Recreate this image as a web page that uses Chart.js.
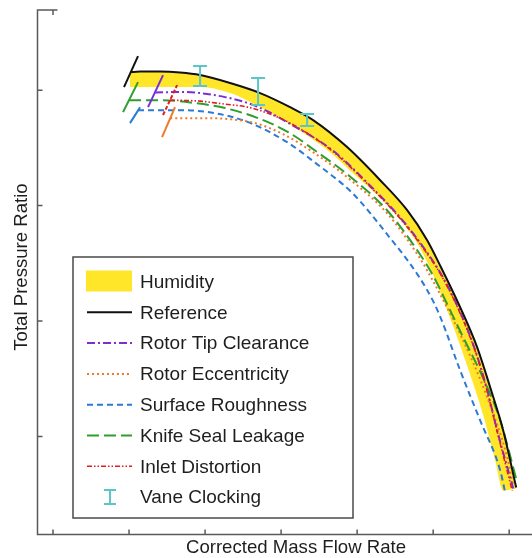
<!DOCTYPE html>
<html>
<head>
<meta charset="utf-8">
<script src="https://cdn.jsdelivr.net/npm/chart.js@4.4.0/dist/chart.umd.min.js"></script>
<style>
    html, body { margin: 0; padding: 0; background: #fff; }
    #wrap { width: 532px; height: 558px; position: relative; }
</style>
</head>
<body>
<div id="wrap"><canvas id="chart"></canvas></div>
<script>
// Axis ticks (no labels on the original)
const xTicks = [0, 1, 2, 3, 4, 5, 6];
const yTicks = [1, 2, 3, 4];

// Reference curve
const refX = [1.013, 1.145, 1.408, 1.671, 1.934, 2.329, 2.724, 3.118, 3.421, 3.868, 4.303, 4.658, 4.921, 5.092, 5.355, 5.579, 5.750, 5.921, 6.092];
const refY = [4.157, 4.161, 4.161, 4.153, 4.131, 4.062, 3.975, 3.853, 3.741, 3.507, 3.220, 2.960, 2.700, 2.480, 2.119, 1.772, 1.425, 1.052, 0.558];
const refSurgeX = [0.934, 1.118];
const refSurgeY = [4.027, 4.296];

// Humidity band, lower edge (upper edge is the reference curve)
const humLoX = [1.013, 1.408, 1.934, 2.329, 2.592, 2.921, 3.276, 3.675, 3.918, 4.373, 4.767, 4.965, 5.244, 5.445, 5.648, 5.816, 5.921, 6.092];
const humLoY = [4.027, 4.027, 4.027, 3.975, 3.897, 3.784, 3.637, 3.446, 3.298, 3.021, 2.700, 2.450, 1.989, 1.616, 1.208, 0.792, 0.532, 0.549];

// Rotor tip clearance
const tipX = [1.342, 1.671, 1.934, 2.263, 2.566, 2.816, 3.079, 3.675, 4.139, 4.596, 4.899, 5.113, 5.326, 5.540, 5.701, 5.842, 6.053];
const tipY = [3.980, 3.985, 3.975, 3.940, 3.888, 3.819, 3.723, 3.480, 3.194, 2.873, 2.613, 2.396, 2.119, 1.772, 1.425, 1.052, 0.549];
const tipSurgeX = [1.250, 1.447];
const tipSurgeY = [3.853, 4.131];

// Inlet distortion
const inletX = [1.539, 1.934, 2.263, 2.566, 2.855, 3.118, 3.675, 4.139, 4.596, 4.899, 5.113, 5.326, 5.540, 5.701, 5.842, 6.039];
const inletY = [3.914, 3.905, 3.879, 3.853, 3.793, 3.715, 3.472, 3.186, 2.865, 2.604, 2.388, 2.110, 1.763, 1.416, 1.043, 0.532];
const inletSurgeX = [1.447, 1.632];
const inletSurgeY = [3.784, 4.044];

// Knife seal leakage
const knifeX = [1.000, 1.408, 1.868, 2.263, 2.697, 3.092, 3.441, 3.918, 4.393, 4.817, 5.011, 5.204, 5.395, 5.671, 5.882, 6.105];
const knifeY = [3.914, 3.914, 3.888, 3.845, 3.758, 3.637, 3.480, 3.246, 2.960, 2.587, 2.379, 2.119, 1.859, 1.486, 1.139, 0.601];
const knifeSurgeX = [0.921, 1.118];
const knifeSurgeY = [3.810, 4.070];

// Rotor eccentricity
const eccX = [1.542, 1.934, 2.329, 2.658, 3.026, 3.441, 3.918, 4.393, 4.817, 4.971, 5.375, 5.711, 5.974, 6.053];
const eccY = [3.758, 3.758, 3.749, 3.715, 3.619, 3.454, 3.220, 2.934, 2.552, 2.379, 1.859, 1.338, 0.818, 0.575];
const eccSurgeX = [1.434, 1.605];
const eccSurgeY = [3.593, 3.853];

// Surface roughness
const roughX = [1.118, 1.671, 2.132, 2.566, 3.079, 3.451, 3.938, 4.383, 4.797, 5.001, 5.112, 5.355, 5.618, 5.882, 5.947];
const roughY = [3.827, 3.827, 3.801, 3.723, 3.550, 3.370, 3.108, 2.761, 2.400, 2.170, 2.006, 1.572, 1.139, 0.705, 0.514];
const roughSurgeX = [1.013, 1.145];
const roughSurgeY = [3.715, 3.853];

// Vane clocking error bars
const vaneX = [1.934, 2.697, 3.342];
const vaneLo = [4.036, 3.871, 3.689];
const vaneHi = [4.209, 4.105, 3.793];

const COLORS = {
    humidity: '#ffe629',
    reference: '#111111',
    tip: '#7b2ed6',
    ecc: '#f07a2a',
    rough: '#2a7ad6',
    knife: '#2e9e2e',
    inlet: '#e51b23',
    vane: '#5cc6c6'
};

const DASH = {
    reference: [],
    tip: [8, 3, 2, 3],
    ecc: [2, 3],
    rough: [6, 4],
    knife: [12, 5],
    inlet: [5, 2, 1.5, 2, 1.5, 2]
};

const FONT = '"Liberation Sans", Arial, sans-serif';

function pts(xs, ys) {
    return xs.map((x, i) => ({ x: x, y: ys[i] }));
}

function curve(key, xs, ys, width) {
    return {
        data: pts(xs, ys),
        borderColor: COLORS[key],
        borderDash: DASH[key],
        borderWidth: width,
        cubicInterpolationMode: 'monotone',
        fill: false
    };
}

function surge(key, xs, ys, dashed) {
    return {
        data: pts(xs, ys),
        borderColor: COLORS[key],
        borderDash: dashed ? [4, 2] : [],
        borderWidth: 2,
        fill: false
    };
}

const datasets = [
    curve('reference', refX, refY, 2),          // 0
    surge('reference', refSurgeX, refSurgeY),
    curve('inlet', inletX, inletY, 1.6),
    surge('inlet', inletSurgeX, inletSurgeY, true),
    curve('tip', tipX, tipY, 2),
    surge('tip', tipSurgeX, tipSurgeY),
    curve('knife', knifeX, knifeY, 2),
    surge('knife', knifeSurgeX, knifeSurgeY),
    curve('ecc', eccX, eccY, 2),
    surge('ecc', eccSurgeX, eccSurgeY),
    curve('rough', roughX, roughY, 2),
    surge('rough', roughSurgeX, roughSurgeY),
    {
        // humidity band: filled up to the reference curve (dataset 0)
        data: pts(humLoX, humLoY),
        borderWidth: 0,
        borderColor: 'rgba(0,0,0,0)',
        backgroundColor: COLORS.humidity,
        cubicInterpolationMode: 'monotone',
        fill: 0
    }
];

const legendItems = [
    { label: 'Humidity', kind: 'box', key: 'humidity' },
    { label: 'Reference', kind: 'line', key: 'reference', width: 2 },
    { label: 'Rotor Tip Clearance', kind: 'line', key: 'tip', width: 2 },
    { label: 'Rotor Eccentricity', kind: 'line', key: 'ecc', width: 2 },
    { label: 'Surface Roughness', kind: 'line', key: 'rough', width: 2 },
    { label: 'Knife Seal Leakage', kind: 'line', key: 'knife', width: 2 },
    { label: 'Inlet Distortion', kind: 'line', key: 'inlet', width: 1.6 },
    { label: 'Vane Clocking', kind: 'bar', key: 'vane' }
];

// error bars for vane clocking
const errorBars = {
    id: 'errorBars',
    afterDatasetsDraw(chart) {
        const { ctx, scales: { x, y } } = chart;
        ctx.save();
        ctx.strokeStyle = COLORS.vane;
        ctx.lineWidth = 2;
        ctx.beginPath();
        vaneX.forEach((v, i) => {
            const px = x.getPixelForValue(v);
            const top = y.getPixelForValue(vaneHi[i]);
            const bot = y.getPixelForValue(vaneLo[i]);
            ctx.moveTo(px, top); ctx.lineTo(px, bot);
            ctx.moveTo(px - 7, top); ctx.lineTo(px + 7, top);
            ctx.moveTo(px - 7, bot); ctx.lineTo(px + 7, bot);
        });
        ctx.stroke();
        ctx.restore();
    }
};

// axes with inward ticks and titles
const frame = {
    id: 'frame',
    afterDraw(chart) {
        const { ctx, chartArea: a, scales: { x, y } } = chart;
        ctx.save();
        ctx.strokeStyle = '#5a5a5a';
        ctx.lineWidth = 1.5;
        ctx.beginPath();
        ctx.moveTo(a.right, a.bottom);
        ctx.lineTo(a.left, a.bottom);
        ctx.lineTo(a.left, a.top);
        ctx.lineTo(a.left + 20, a.top);
        xTicks.forEach(v => {
            const px = x.getPixelForValue(v);
            ctx.moveTo(px, a.bottom); ctx.lineTo(px, a.bottom - 5);
        });
        const p0 = x.getPixelForValue(xTicks[0]);
        ctx.moveTo(p0, a.top); ctx.lineTo(p0, a.top + 5);
        yTicks.forEach(v => {
            const py = y.getPixelForValue(v);
            ctx.moveTo(a.left, py); ctx.lineTo(a.left + 5, py);
        });
        ctx.stroke();

        ctx.fillStyle = '#1e1e1e';
        ctx.font = '18.6px ' + FONT;
        ctx.textAlign = 'center';
        ctx.textBaseline = 'middle';
        ctx.fillText('Corrected Mass Flow Rate', 296, 548);
        ctx.translate(22, 267);
        ctx.rotate(-Math.PI / 2);
        ctx.fillText('Total Pressure Ratio', 0, 0);
        ctx.restore();
    }
};

// boxed legend inside the plot
const boxLegend = {
    id: 'boxLegend',
    afterDraw(chart) {
        const ctx = chart.ctx;
        const bx = 73, by = 257, bw = 280, bh = 261;
        ctx.save();
        ctx.fillStyle = '#fff';
        ctx.fillRect(bx, by, bw, bh);
        ctx.strokeStyle = '#4a4a4a';
        ctx.lineWidth = 1.5;
        ctx.strokeRect(bx, by, bw, bh);

        ctx.font = '19px ' + FONT;
        ctx.textBaseline = 'middle';
        ctx.textAlign = 'left';
        legendItems.forEach((item, i) => {
            const cy = 281.5 + i * 30.8;
            if (item.kind === 'box') {
                ctx.fillStyle = COLORS[item.key];
                ctx.fillRect(86, cy - 11, 46, 21);
            } else if (item.kind === 'line') {
                ctx.strokeStyle = COLORS[item.key];
                ctx.lineWidth = item.width;
                ctx.setLineDash(DASH[item.key]);
                ctx.beginPath();
                ctx.moveTo(87, cy); ctx.lineTo(132, cy);
                ctx.stroke();
                ctx.setLineDash([]);
            } else {
                ctx.strokeStyle = COLORS[item.key];
                ctx.lineWidth = 2;
                ctx.beginPath();
                ctx.moveTo(110, cy - 7); ctx.lineTo(110, cy + 7);
                ctx.moveTo(104, cy - 7); ctx.lineTo(116, cy - 7);
                ctx.moveTo(104, cy + 7); ctx.lineTo(116, cy + 7);
                ctx.stroke();
            }
            ctx.fillStyle = '#1e1e1e';
            ctx.fillText(item.label, 140, cy + 1);
        });
        ctx.restore();
    }
};

new Chart(document.getElementById('chart'), {
    type: 'line',
    data: { datasets: datasets },
    options: {
        responsive: true,
        maintainAspectRatio: false,
        animation: false,
        devicePixelRatio: 1,
        layout: { padding: { left: 37.5, top: 10, right: 0, bottom: 23.5 } },
        elements: { point: { radius: 0, hoverRadius: 0 } },
        scales: {
            x: { type: 'linear', display: false, min: -0.204, max: 6.30 },
            y: { type: 'linear', display: false, min: 0.15, max: 4.695 }
        },
        plugins: {
            legend: { display: false },
            tooltip: { enabled: false },
            filler: { propagate: false }
        }
    },
    plugins: [errorBars, frame, boxLegend]
});
</script>
</body>
</html>
